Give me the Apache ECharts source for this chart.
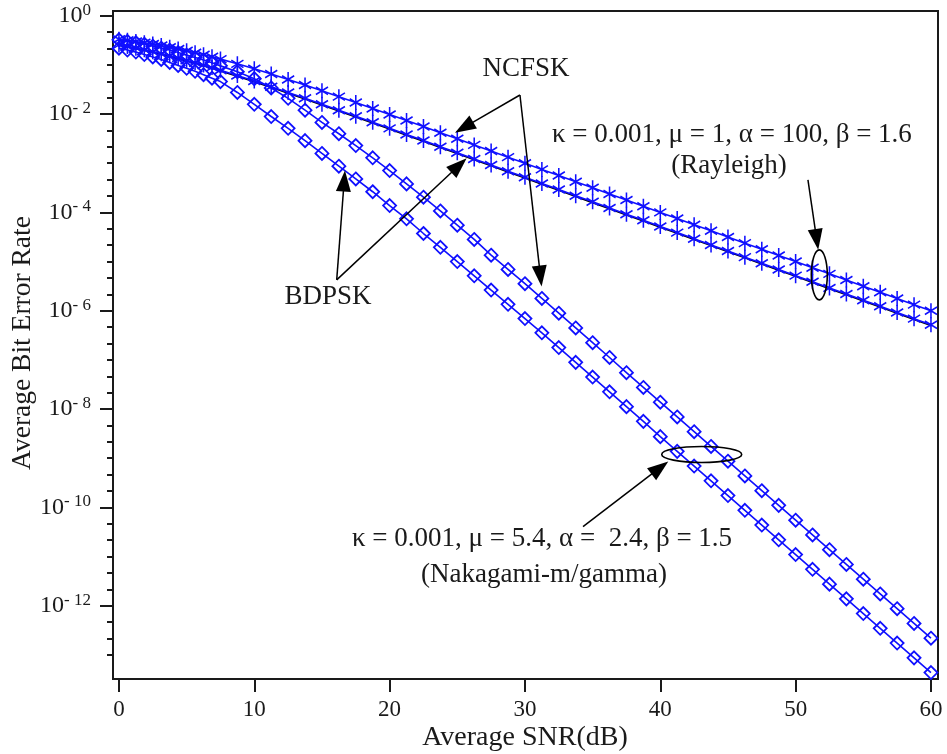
<!DOCTYPE html>
<html>
<head>
<meta charset="utf-8">
<script src="https://cdn.jsdelivr.net/npm/echarts@6/dist/echarts.min.js"></script>
<style>
  html, body { margin: 0; padding: 0; background: #ffffff; }
  #chart { width: 947px; height: 754px; }
</style>
</head>
<body>
<div id="chart"></div>
<script>
// Average SNR grid (dB): finer steps below 7.5 dB, 1.25 dB steps above
const snrDb = [0, 0.625, 1.25, 1.875, 2.5, 3.125, 3.75, 4.375, 5, 5.625, 6.25, 6.875, 7.5,
  8.75, 10, 11.25, 12.5, 13.75, 15, 16.25, 17.5, 18.75, 20, 21.25, 22.5, 23.75, 25, 26.25, 27.5,
  28.75, 30, 31.25, 32.5, 33.75, 35, 36.25, 37.5, 38.75, 40, 41.25, 42.5, 43.75, 45, 46.25, 47.5,
  48.75, 50, 51.25, 52.5, 53.75, 55, 56.25, 57.5, 58.75, 60];

// kappa = 0.001, mu = 1, alpha = 100, beta = 1.6 (Rayleigh-like)
const ncfskRayleigh = [3.33e-1, 3.17e-1, 3.00e-1, 2.83e-1, 2.65e-1, 2.47e-1, 2.29e-1, 2.11e-1, 1.94e-1, 1.77e-1, 1.61e-1, 1.46e-1, 1.31e-1,
  1.05e-1, 8.33e-2, 6.52e-2, 5.06e-2, 3.89e-2, 2.97e-2, 2.26e-2, 1.72e-2, 1.30e-2, 9.80e-3, 7.39e-3, 5.56e-3, 4.18e-3, 3.14e-3,
  2.36e-3, 1.77e-3, 1.33e-3, 9.98e-4, 7.49e-4, 5.62e-4, 4.21e-4, 3.16e-4, 2.37e-4, 1.78e-4, 1.33e-4, 1.00e-4, 7.50e-5, 5.62e-5,
  4.22e-5, 3.16e-5, 2.37e-5, 1.78e-5, 1.33e-5, 1.00e-5, 7.50e-6, 5.62e-6, 4.22e-6, 3.16e-6, 2.37e-6, 1.78e-6, 1.33e-6, 1.00e-6];

const bdpskRayleigh = [2.55e-1, 2.37e-1, 2.19e-1, 2.02e-1, 1.85e-1, 1.69e-1, 1.53e-1, 1.38e-1, 1.24e-1, 1.11e-1, 9.90e-2, 8.80e-2, 7.80e-2,
  6.08e-2, 4.70e-2, 3.60e-2, 2.75e-2, 2.09e-2, 1.58e-2, 1.20e-2, 9.03e-3, 6.80e-3, 5.12e-3, 3.85e-3, 2.89e-3, 2.17e-3, 1.63e-3,
  1.22e-3, 9.18e-4, 6.89e-4, 5.17e-4, 3.88e-4, 2.91e-4, 2.18e-4, 1.64e-4, 1.23e-4, 9.20e-5, 6.90e-5, 5.17e-5, 3.88e-5, 2.91e-5,
  2.18e-5, 1.64e-5, 1.23e-5, 9.20e-6, 6.90e-6, 5.17e-6, 3.88e-6, 2.91e-6, 2.18e-6, 1.64e-6, 1.23e-6, 9.20e-7, 6.90e-7, 5.17e-7];

// reference Rayleigh BDPSK curve (solid black)
const bdpskRayleighRef = [2.50e-1, 2.32e-1, 2.14e-1, 1.97e-1, 1.80e-1, 1.64e-1, 1.48e-1, 1.34e-1, 1.20e-1, 1.08e-1, 9.58e-2, 8.52e-2, 7.55e-2,
  5.88e-2, 4.55e-2, 3.49e-2, 2.66e-2, 2.02e-2, 1.53e-2, 1.16e-2, 8.74e-3, 6.58e-3, 4.95e-3, 3.72e-3, 2.80e-3, 2.10e-3, 1.58e-3,
  1.18e-3, 8.88e-4, 6.66e-4, 5.00e-4, 3.75e-4, 2.81e-4, 2.11e-4, 1.58e-4, 1.19e-4, 8.89e-5, 6.67e-5, 5.00e-5, 3.75e-5, 2.81e-5,
  2.11e-5, 1.58e-5, 1.19e-5, 8.89e-6, 6.67e-6, 5.00e-6, 3.75e-6, 2.81e-6, 2.11e-6, 1.58e-6, 1.19e-6, 8.89e-7, 6.67e-7, 5.00e-7];

// kappa = 0.001, mu = 5.4, alpha = 2.4, beta = 1.5 (Nakagami-m/gamma)
const ncfskNakagami = [3.24e-1, 3.02e-1, 2.82e-1, 2.63e-1, 2.40e-1, 2.19e-1, 2.00e-1, 1.78e-1, 1.58e-1, 1.41e-1, 1.26e-1, 1.10e-1, 9.55e-2,
  7.24e-2, 5.25e-2, 3.39e-2, 2.09e-2, 1.20e-2, 6.76e-3, 3.98e-3, 2.29e-3, 1.29e-3, 7.08e-4, 3.80e-4, 2.04e-4, 1.07e-4, 5.50e-5,
  2.82e-5, 1.35e-5, 6.92e-6, 3.55e-6, 1.78e-6, 8.91e-7, 4.47e-7, 2.24e-7, 1.12e-7, 5.50e-8, 2.75e-8, 1.38e-8, 6.92e-9, 3.47e-9,
  1.74e-9, 8.71e-10, 4.37e-10, 2.19e-10, 1.10e-10, 5.50e-11, 2.75e-11, 1.38e-11, 6.92e-12, 3.47e-12, 1.74e-12, 8.71e-13, 4.37e-13, 2.19e-13];

const bdpskNakagami = [2.19e-1, 2.00e-1, 1.82e-1, 1.62e-1, 1.45e-1, 1.29e-1, 1.12e-1, 9.77e-2, 8.51e-2, 7.41e-2, 6.31e-2, 5.37e-2, 4.57e-2,
  2.75e-2, 1.58e-2, 8.91e-3, 5.13e-3, 2.88e-3, 1.58e-3, 8.71e-4, 4.79e-4, 2.63e-4, 1.38e-4, 7.41e-5, 3.72e-5, 1.95e-5, 1.00e-5,
  5.13e-6, 2.63e-6, 1.35e-6, 6.92e-7, 3.55e-7, 1.78e-7, 8.91e-8, 4.47e-8, 2.24e-8, 1.12e-8, 5.62e-9, 2.75e-9, 1.38e-9, 6.92e-10,
  3.47e-10, 1.74e-10, 8.71e-11, 4.37e-11, 2.19e-11, 1.10e-11, 5.50e-12, 2.75e-12, 1.38e-12, 6.92e-13, 3.47e-13, 1.74e-13, 8.71e-14, 4.37e-14];

// tick values
const xTicks = [0, 10, 20, 30, 40, 50, 60];
const yLabelExponents = [0, -2, -4, -6, -8, -10, -12];

// axis ranges
const xRange = [-0.44, 60.52];
const yExpRange = [-13.49, 0.096];

// minor ticks every third of a decade
const yMinorExponents = [];
for (let k = 1; k <= 39; k++) {
  const e = -k / 3;
  if (k % 6 !== 0) yMinorExponents.push(e);
}

const FONT = '"Liberation Serif", "Times New Roman", serif';
const INK = '#1a1a1a';
const BLUE = '#1010ff';
const STAR = 'path://M0,-10L0,10M-8.66,-5L8.66,5M-8.66,5L8.66,-5';

const pairs = ys => snrDb.map((x, i) => [x, ys[i]]);

const chart = echarts.init(document.getElementById('chart'), null, { renderer: 'canvas' });

function blueSeries(name, ys, marker) {
  const isStar = marker === 'star';
  return {
    name: name,
    type: 'line',
    xAxisIndex: 0,
    yAxisIndex: 0,
    data: pairs(ys),
    symbol: isStar ? STAR : 'diamond',
    symbolSize: isStar ? [14, 15] : [13, 13],
    symbolKeepAspect: true,
    showAllSymbol: true,
    lineStyle: { color: BLUE, width: 1.6 },
    itemStyle: { color: 'rgba(0,0,0,0)', borderColor: BLUE, borderWidth: isStar ? 1.6 : 1.8 },
    emphasis: { disabled: true },
    animation: false,
    z: 3
  };
}

const option = {
  animation: false,
  backgroundColor: '#ffffff',
  textStyle: { fontFamily: FONT, color: INK },
  grid: {
    left: 113, top: 11, width: 825, height: 668,
    outerBoundsMode: 'none',
    containLabel: false,
    show: true, borderColor: INK, borderWidth: 2, backgroundColor: 'transparent'
  },
  xAxis: [{
    type: 'value',
    position: 'bottom',
    min: xRange[0], max: xRange[1],
    axisLine: { show: true, onZero: false, lineStyle: { color: INK, width: 2 } },
    axisTick: { show: true, inside: false, length: 13, lineStyle: { color: INK, width: 2 }, customValues: xTicks },
    axisLabel: { show: true, margin: 19, fontFamily: FONT, fontSize: 23, color: INK, customValues: xTicks },
    splitLine: { show: false }
  }],
  yAxis: [
    {
      // data axis (logarithmic BER)
      type: 'log',
      logBase: 10,
      position: 'left',
      min: Math.pow(10, yExpRange[0]),
      max: Math.pow(10, yExpRange[1]),
      axisLine: { show: false },
      axisTick: { show: false },
      axisLabel: { show: false },
      splitLine: { show: false }
    },
    {
      // decade labels and major ticks, in exponent units
      type: 'value',
      position: 'left',
      offset: 0,
      min: yExpRange[0], max: yExpRange[1],
      axisLine: { show: true, onZero: false, lineStyle: { color: INK, width: 2 } },
      axisTick: { show: true, length: 13, lineStyle: { color: INK, width: 2 }, customValues: yLabelExponents },
      axisLabel: {
        show: true, margin: 22, customValues: yLabelExponents,
        formatter: v => {
          const e = Math.round(v);
          const sup = e === 0 ? '0' : '- ' + (-e);
          return '{b|10}{s|' + sup + '}';
        },
        rich: {
          b: { fontFamily: FONT, fontSize: 24, color: INK, lineHeight: 28 },
          s: { fontFamily: FONT, fontSize: 17, color: INK, verticalAlign: 'top', lineHeight: 18 }
        }
      },
      splitLine: { show: false }
    },
    {
      // minor ticks
      type: 'value',
      position: 'left',
      offset: 0,
      min: yExpRange[0], max: yExpRange[1],
      axisLine: { show: false },
      axisTick: { show: true, length: 6, lineStyle: { color: INK, width: 2 }, customValues: yMinorExponents },
      axisLabel: { show: false },
      splitLine: { show: false }
    }
  ],
  series: [
    {
      name: 'BDPSK Rayleigh reference',
      type: 'line',
      xAxisIndex: 0, yAxisIndex: 0,
      data: pairs(bdpskRayleighRef),
      symbol: 'none',
      lineStyle: { color: '#000000', width: 1.6 },
      emphasis: { disabled: true },
      z: 2
    },
    blueSeries('NCFSK Rayleigh', ncfskRayleigh, 'star'),
    blueSeries('BDPSK Rayleigh', bdpskRayleigh, 'star'),
    blueSeries('NCFSK Nakagami-m/gamma', ncfskNakagami, 'diamond'),
    blueSeries('BDPSK Nakagami-m/gamma', bdpskNakagami, 'diamond')
  ]
};

chart.setOption(option);

// ---- annotations: arrows and ellipses anchored in data space (SNR dB, BER exponent) ----
const arrows = [
  { from: [29.63, -1.612], to: [24.83, -2.378] },   // NCFSK -> Rayleigh
  { from: [29.63, -1.612], to: [31.23, -5.508] },   // NCFSK -> Nakagami
  { from: [16.09, -5.372], to: [16.70, -3.150] },   // BDPSK -> Nakagami
  { from: [16.09, -5.372], to: [25.69, -2.898] },   // BDPSK -> Rayleigh
  { from: [50.91, -3.339], to: [51.67, -4.762] },   // Rayleigh parameters
  { from: [34.29, -10.39], to: [40.59, -9.065] }    // Nakagami parameters
];
const ellipses = [
  { at: [51.75, -5.27], rx: 8, ry: 25 },
  { at: [43.06, -8.923], rx: 40, ry: 8 }
];
const NOTE_FONT = '27px ' + FONT;
const notes = [
  { text: 'NCFSK', x: 526, y: 69, align: 'center' },
  { text: 'BDPSK', x: 328, y: 297, align: 'center' },
  { text: 'κ = 0.001, μ = 1, α = 100, β = 1.6', x: 552, y: 135, align: 'left' },
  { text: '(Rayleigh)', x: 729, y: 166, align: 'center' },
  { text: 'κ = 0.001, μ = 5.4, α =  2.4, β = 1.5', x: 352, y: 539, align: 'left' },
  { text: '(Nakagami-m/gamma)', x: 667, y: 575, align: 'right' }
];

const toPx = p => chart.convertToPixel({ xAxisIndex: 0, yAxisIndex: 0 }, [p[0], Math.pow(10, p[1])]);

const elements = [];
arrows.forEach(a => {
  const s = toPx(a.from), t = toPx(a.to);
  const dx = t[0] - s[0], dy = t[1] - s[1];
  const len = Math.hypot(dx, dy);
  const ux = dx / len, uy = dy / len;
  const head = 21, half = 7.5;
  const bx = t[0] - ux * head, by = t[1] - uy * head;
  elements.push({
    type: 'line', silent: true, z: 10,
    shape: { x1: s[0], y1: s[1], x2: bx + ux * 2, y2: by + uy * 2 },
    style: { stroke: '#000', lineWidth: 1.5 }
  });
  elements.push({
    type: 'polygon', silent: true, z: 10,
    shape: { points: [[t[0], t[1]], [bx - uy * half, by + ux * half], [bx + uy * half, by - ux * half]] },
    style: { fill: '#000' }
  });
});
ellipses.forEach(e => {
  const c = toPx(e.at);
  elements.push({
    type: 'ellipse', silent: true, z: 10,
    shape: { cx: c[0], cy: c[1], rx: e.rx, ry: e.ry },
    style: { fill: 'none', stroke: '#000', lineWidth: 1.6 }
  });
});
notes.forEach(n => {
  elements.push({
    type: 'text', silent: true, z: 10,
    x: n.x, y: n.y,
    style: { text: n.text, font: NOTE_FONT, fill: INK, align: n.align, verticalAlign: 'middle' }
  });
});
// axis titles
elements.push({
  type: 'text', silent: true, z: 10, x: 23, y: 343, rotation: Math.PI / 2,
  style: { text: 'Average Bit Error Rate', font: '27.5px ' + FONT, fill: INK, align: 'center', verticalAlign: 'middle' }
});
elements.push({
  type: 'text', silent: true, z: 10, x: 525, y: 738,
  style: { text: 'Average SNR(dB)', font: '28px ' + FONT, fill: INK, align: 'center', verticalAlign: 'middle' }
});

chart.setOption({ graphic: { elements: elements } });
</script>
</body>
</html>
